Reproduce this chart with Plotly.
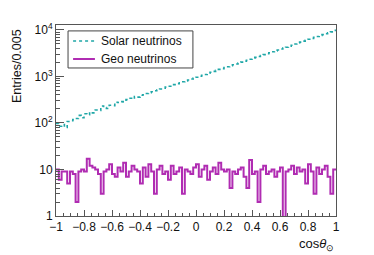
import numpy as np
import plotly.graph_objects as go

# Histogram: 100 bins over cos(theta_sun) in [-1, 1]
x_min, x_max = -1.0, 1.0

solar_counts = [98, 85, 92, 80, 108, 112, 118, 125, 146, 130,
                158, 150, 172, 165, 190, 186, 232, 215, 205, 240,
                236, 280, 275, 288, 285, 318, 340, 328, 372, 360,
                395, 405, 432, 450, 470, 492, 510, 540, 560, 590,
                615, 640, 668, 700, 735, 768, 805, 840, 880, 920,
                962, 1010, 1055, 1100, 1170, 1235, 1290, 1350, 1420, 1475,
                1555, 1625, 1700, 1785, 1860, 1955, 2040, 2140, 2235, 2350,
                2460, 2570, 2690, 2820, 2950, 3095, 3230, 3390, 3545, 3720,
                3885, 4080, 4265, 4470, 4680, 5000, 5250, 5490, 5760, 6020,
                6300, 6610, 6920, 7240, 7590, 7940, 8320, 8710, 9120, 9800]

geo_counts = [10, 6, 9, 9, 5, 9, 8, 2, 9, 10,
              9, 17, 12, 11, 10, 8, 3, 9, 10, 13,
              8, 7, 11, 9, 14, 7, 9, 12, 10, 9,
              5, 11, 7, 13, 9, 3, 10, 12, 8, 9,
              6, 12, 8, 9, 11, 3, 10, 9, 8, 11,
              13, 7, 10, 12, 6, 9, 11, 8, 14, 10,
              9, 10, 4, 9, 8, 10, 11, 7, 4, 16,
              8, 9, 2, 10, 12, 8, 9, 10, 7, 9,
              11, 0, 9, 10, 12, 8, 11, 9, 10, 5,
              13, 9, 3, 11, 8, 10, 12, 7, 3, 10]

series_names = ["Solar neutrinos", "Geo neutrinos"]
series_colors = ["#1fa7a7", "#b02cb2"]
y_tick_vals = [1, 10, 100, 1000, 10000]
y_tick_text = ["1", "10", "10<sup>2</sup>", "10<sup>3</sup>", "10<sup>4</sup>"]

n_bins = len(solar_counts)
edges = np.linspace(x_min, x_max, n_bins + 1)


def step_xy(counts, floor=None):
    ys = list(counts)
    if floor is not None:
        ys = [max(v, floor) for v in ys]
    xs = list(edges)
    ys = ys + [ys[-1]]
    return xs, ys


FONT = "Liberation Sans, Arial, sans-serif"

fig = go.Figure()
sx, sy = step_xy(solar_counts)
fig.add_trace(go.Scatter(x=sx, y=sy, mode="lines", line_shape="hv",
                         name=series_names[0],
                         line=dict(color=series_colors[0], width=1.6, dash="dot")))
gx, gy = step_xy(geo_counts, floor=0.5)
fig.add_trace(go.Scatter(x=gx, y=gy, mode="lines", line_shape="hv",
                         name=series_names[1],
                         line=dict(color=series_colors[1], width=2)))

minor_vals = [m * 10 ** k for k in range(0, 4) for m in range(2, 10)]

fig.update_layout(
    width=374, height=255,
    margin=dict(l=56, r=38, t=25, b=39),
    paper_bgcolor="white", plot_bgcolor="white",
    font=dict(family=FONT, size=12, color="#111"),
    showlegend=False,
    xaxis=dict(range=[x_min, x_max], showgrid=False, zeroline=False,
               showline=True, linecolor="#555", linewidth=1, mirror=True,
               ticks="inside", ticklen=6, tickcolor="#555",
               tick0=-1, dtick=0.2, tickfont=dict(size=12),
               minor=dict(ticks="inside", ticklen=3, dtick=0.05, tickcolor="#555")),
    yaxis=dict(type="log", range=[0, 4.107], showgrid=False, zeroline=False,
               showline=True, linecolor="#555", linewidth=1, mirror=True,
               ticks="inside", ticklen=8, tickcolor="#555",
               tickvals=y_tick_vals, ticktext=y_tick_text, tickfont=dict(size=12),
               minor=dict(ticks="inside", ticklen=4, tickvals=minor_vals, tickcolor="#555")),
)

# Legend box (ROOT TLegend style), drawn in paper coordinates
fig.add_shape(type="rect", xref="paper", yref="paper",
              x0=0.043, x1=0.489, y0=0.775, y1=0.969,
              line=dict(color="#444", width=1), fillcolor="white", layer="above")
legend_rows_y = [0.916, 0.822]
legend_dash = ["dot", "solid"]
legend_width = [1.6, 2]
for name, color, yy, dash, w in zip(series_names, series_colors, legend_rows_y,
                                    legend_dash, legend_width):
    fig.add_shape(type="line", xref="paper", yref="paper",
                  x0=0.061, x1=0.139, y0=yy, y1=yy,
                  line=dict(color=color, width=w, dash=dash), layer="above")
    fig.add_annotation(text=name, xref="paper", yref="paper",
                       x=0.153, y=yy, xanchor="left", yanchor="middle",
                       showarrow=False, font=dict(size=12, color="#111"))

fig.add_annotation(text="Entries/0.005", xref="paper", yref="paper",
                   x=-0.139, y=0.99, xanchor="center", yanchor="top",
                   textangle=-90, showarrow=False, font=dict(size=12.5))
fig.add_annotation(text="cos<i>θ</i><sub>⊙</sub>", xref="paper", yref="paper",
                   x=1.0, y=-0.095, xanchor="right", yanchor="top",
                   showarrow=False, font=dict(size=13))

fig.write_html("out.html", config={"displayModeBar": False},
               post_script="document.body.style.margin='0px';document.body.style.overflow='hidden';")
